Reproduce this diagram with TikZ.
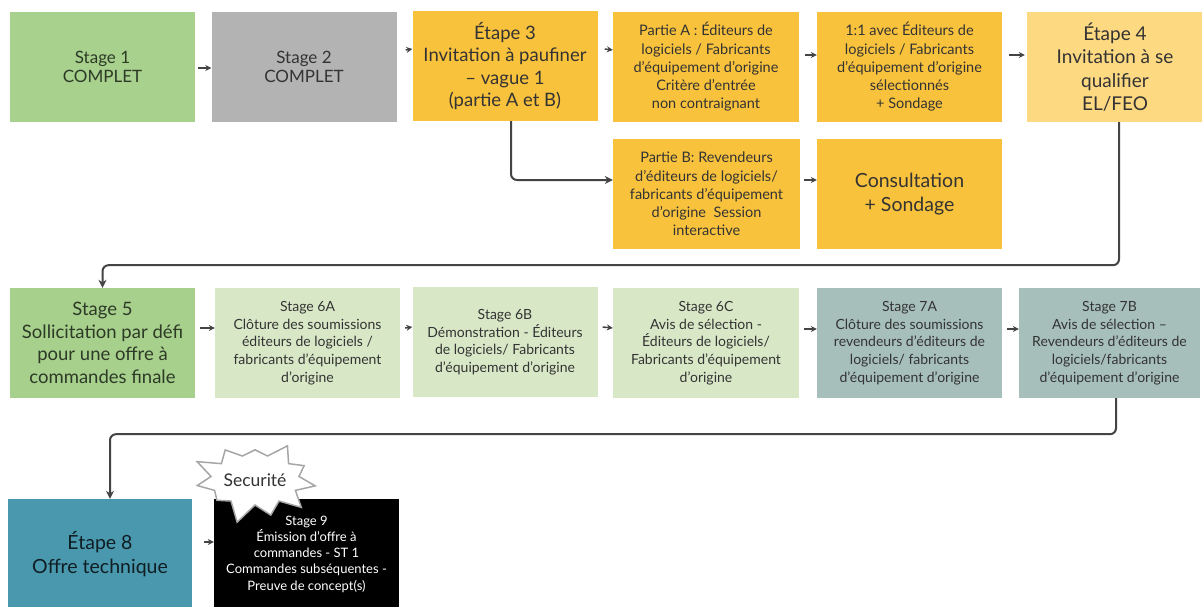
\documentclass[tikz,border=0pt]{standalone}
\usepackage{fontspec}
\setmainfont{Lato}
\usetikzlibrary{arrows.meta,shapes.symbols}
\definecolor{cgreen}{HTML}{A9D18E}
\definecolor{cgrey}{HTML}{B3B3B3}
\definecolor{cyellow}{HTML}{F9C23C}
\definecolor{clyellow}{HTML}{FDD982}
\definecolor{cgreenB}{HTML}{A8D08D}
\definecolor{clgreen}{HTML}{D8E8C7}
\definecolor{cteal}{HTML}{A7BFBB}
\definecolor{cblue}{HTML}{4A98AE}
\definecolor{ctext}{HTML}{333333}
\definecolor{cgtext}{HTML}{2C3A26}
\definecolor{cline}{HTML}{444444}
\tikzset{
  box/.style={rectangle, draw=none, minimum width=185pt, minimum height=110pt, inner sep=1pt, align=center, text=ctext},
  big/.style={font=\fontsize{18.5}{22.5}\selectfont},
  small/.style={font=\fontsize{14.5}{18.2}\selectfont},
  smaller/.style={font=\fontsize{14}{17.6}\selectfont},
  mid/.style={font=\fontsize{17}{19.5}\selectfont},
  arr/.style={draw=cline, line width=1.5pt, -{Stealth[length=6pt,width=6pt]}},
  conn/.style={draw=cline, line width=2pt, rounded corners=6pt, -{Stealth[length=8pt,width=8pt]}},
}
\begin{document}
\begin{tikzpicture}[x=1pt,y=-1pt]
\useasboundingbox (0,0) rectangle (1202,606);
\fill[white] (0,0) rectangle (1202,606);
% row 1
\node[box, mid, fill=cgreen, text=cgtext] (s1) at (102.5,67) {Stage 1\\COMPLET};
\node[box, mid, fill=cgrey] (s2) at (304,67) {Stage 2\\COMPLET};
\node[box, big, fill=cyellow] (e3) at (505,66) {Étape 3\\Invitation à paufiner\\– vague 1\\(partie A et B)};
\node[box, small, fill=cyellow, minimum width=186pt] (pA) at (706,67) {Partie A : Éditeurs de\\logiciels / Fabricants\\d’équipement d’origine\\Critère d’entrée\\non contraignant};
\node[box, small, fill=cyellow] (p11) at (909.5,67) {1:1 avec Éditeurs de\\logiciels / Fabricants\\d’équipement d’origine\\sélectionnés\\+ Sondage};
\node[box, fill=clyellow, minimum width=176pt, font=\fontsize{19}{23.3}\selectfont] (e4) at (1115,67) {Étape 4\\Invitation à se\\qualifier\\EL/FEO};
\node[box, small, fill=cyellow, minimum width=187pt] (pB) at (706.5,194) {Partie B: Revendeurs\\d’éditeurs de logiciels/\\fabricants d’équipement\\d’origine~~Session\\interactive};
\node[box, fill=cyellow, font=\fontsize{19.5}{24}\selectfont] (cons) at (909.5,194) {Consultation\\+ Sondage};
% row 2
\node[box, fill=cgreenB, text=cgtext, font=\fontsize{18.5}{22.5}\selectfont] (s5) at (102.5,343) {Stage 5\\Sollicitation par défi\\pour une offre à\\commandes finale};
\node[box, fill=clgreen, smaller] (s6a) at (307.5,343) {Stage 6A\\Clôture des soumissions\\éditeurs de logiciels /\\fabricants d’équipement\\d’origine};
\node[box, fill=clgreen, smaller] (s6b) at (505,342) {Stage 6B\\Démonstration - Éditeurs\\de logiciels/ Fabricants\\d’équipement d’origine};
\node[box, fill=clgreen, smaller, minimum width=186pt] (s6c) at (706,343) {Stage 6C\\Avis de sélection -\\Éditeurs de logiciels/\\Fabricants d’équipement\\d’origine};
\node[box, fill=cteal, smaller] (s7a) at (909.5,343) {Stage 7A\\Clôture des soumissions\\revendeurs d’éditeurs de\\logiciels/ fabricants\\d’équipement d’origine};
\node[box, fill=cteal, smaller, minimum width=181pt] (s7b) at (1109.5,343) {Stage 7B\\Avis de sélection –\\Revendeurs d’éditeurs de\\logiciels/fabricants\\d’équipement d’origine};
% row 3
\node[box, fill=cblue, text=black!80!cblue, font=\fontsize{19.5}{24}\selectfont, minimum width=184pt, minimum height=110pt] (e8) at (100,554) {Étape 8\\Offre technique};
\node[box, fill=black, text=white, font=\fontsize{13}{16.2}\selectfont, minimum height=110pt] (s9) at (306.5,554) {Stage 9\\Émission d’offre à\\commandes - ST 1\\Commandes subséquentes -\\Preuve de concept(s)};
\node[starburst, starburst points=11, starburst point height=20pt, random starburst=23, draw=black!35, fill=white, line width=1.5pt, minimum width=124pt, minimum height=90pt, inner sep=0pt, font=\fontsize{17.5}{19}\selectfont, text=ctext] (sec) at (255,480) {Securité};
% short arrows
\draw[arr] ([xshift=3pt,yshift=-1pt]s1.east) -- ([yshift=-1pt]s2.west);
\draw[arr] ([xshift=9pt,yshift=17pt]s2.east) -- ([yshift=17pt]e3.west);
\draw[arr] ([xshift=7pt,yshift=17pt]e3.east) -- ([yshift=17pt]pA.west);
\draw[arr] ([xshift=6pt,yshift=12pt]pA.east) -- ([yshift=12pt]p11.west);
\draw[arr] ([xshift=7pt,yshift=12pt]p11.east) -- ([xshift=-2pt,yshift=12pt]e4.west);
\draw[arr] ([xshift=4pt,yshift=14pt]pB.east) -- ([yshift=14pt]cons.west);
\draw[arr] ([xshift=5pt,yshift=15pt]s5.east) -- ([yshift=15pt]s6a.west);
\draw[arr] ([xshift=5pt,yshift=15pt]s6a.east) -- ([yshift=15pt]s6b.west);
\draw[arr] ([xshift=5pt,yshift=15pt]s6b.east) -- ([yshift=15pt]s6c.west);
\draw[arr] ([xshift=5pt,yshift=14pt]s6c.east) -- ([yshift=14pt]s7a.west);
\draw[arr] ([xshift=5pt,yshift=14pt]s7a.east) -- ([yshift=14pt]s7b.west);
\draw[arr] ([xshift=12pt,yshift=12pt]e8.east) -- ([yshift=12pt]s9.west);
% long connectors
\draw[conn] ([xshift=6pt]e3.south) |- ([yshift=14pt]pB.west);
\draw[conn] ([xshift=4pt]e4.south) -- ++(0,143) -| (s5.north);
\draw[conn] ([xshift=6.5pt]s7b.south) -- ++(0,36) -| ([xshift=10pt]e8.north);
\end{tikzpicture}
\end{document}
